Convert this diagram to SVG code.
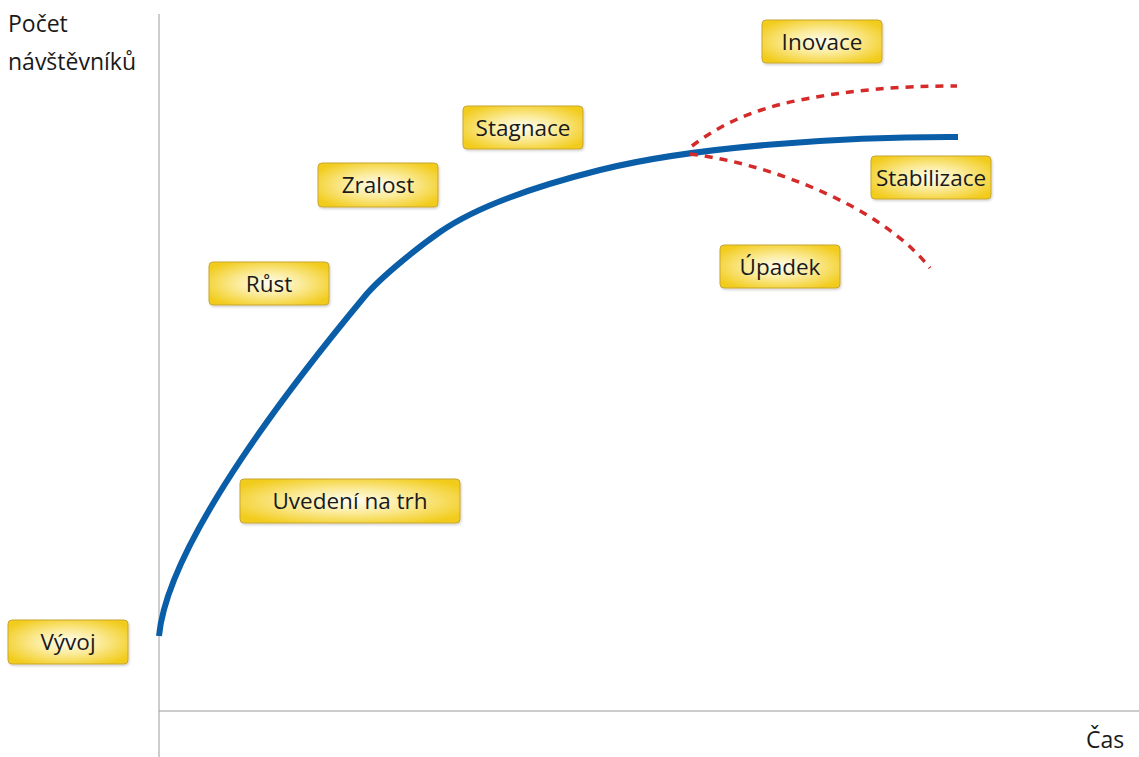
<svg xmlns="http://www.w3.org/2000/svg" width="1139" height="757" viewBox="0 0 1139 757">
  <defs>
    <radialGradient id="gold" cx="50%" cy="50%" r="60%">
      <stop offset="0" stop-color="#fffdf2"/>
      <stop offset="0.45" stop-color="#fbeb9a"/>
      <stop offset="1" stop-color="#f2cc1c"/>
    </radialGradient>
    <filter id="shadow" x="-10%" y="-20%" width="130%" height="150%">
      <feDropShadow dx="1" dy="1.5" stdDeviation="1.2" flood-color="#000" flood-opacity="0.18"/>
    </filter>
  </defs>
  <style>
    .box { fill: url(#gold); stroke: #c9a633; stroke-width: 1; filter: url(#shadow); }
    .lbl { font-family: "Open Sans", "Liberation Sans", sans-serif; font-size: 22.5px; fill: #1a1a1a; text-anchor: middle; }
    .axis-lbl { font-family: "Open Sans", "Liberation Sans", sans-serif; font-size: 23px; fill: #1a1a1a; }
    .axis { stroke: #9a9a9a; stroke-width: 1; fill: none; }
    .main { stroke: #0a5ea8; stroke-width: 6; fill: none; stroke-linecap: butt; }
    .alt { stroke: #d42a2a; stroke-width: 3.5; fill: none; stroke-dasharray: 8 7; }
  </style>
  <rect width="1139" height="757" fill="#ffffff"/>

  <!-- axes -->
  <g id="axes">
    <line class="axis" x1="159" y1="14" x2="159" y2="757"/>
    <line class="axis" x1="159" y1="711" x2="1139" y2="711"/>
    <text class="axis-lbl" x="8" y="32">Počet</text>
    <text class="axis-lbl" x="8" y="70">návštěvníků</text>
    <text class="axis-lbl" x="1086" y="748">Čas</text>
  </g>

  <!-- life-cycle curve and its two alternative endings -->
  <g id="connectors">
    <path class="main" d="M159,636 C168,540 301,373 365,296 C381,276.75 419.5,246.25 440,232 C481,203.5 546.6,183.4 600,170 C697,145.7 850,136.5 958,137"/>
    <path class="alt" d="M692,146 C720,125 750,110 800,100 C850,90 900,86 957,86"/>
    <path class="alt" d="M690,154 C740,160 800,178 855,208 C890,228 912,246 930,268"/>
  </g>

  <g id="vyvoj">
    <rect class="box" x="8" y="620" width="120" height="44" rx="4"/>
    <text class="lbl" x="68" y="650">Vývoj</text>
  </g>
  <g id="uvedeni">
    <rect class="box" x="240" y="479" width="220" height="44" rx="4"/>
    <text class="lbl" x="350" y="509">Uvedení na trh</text>
  </g>
  <g id="rust">
    <rect class="box" x="209" y="262" width="120" height="43" rx="4"/>
    <text class="lbl" x="269" y="292">Růst</text>
  </g>
  <g id="zralost">
    <rect class="box" x="318" y="163" width="120" height="44" rx="4"/>
    <text class="lbl" x="378" y="193">Zralost</text>
  </g>
  <g id="stagnace">
    <rect class="box" x="463" y="106" width="120" height="43" rx="4"/>
    <text class="lbl" x="523" y="136">Stagnace</text>
  </g>
  <g id="inovace">
    <rect class="box" x="762" y="20" width="120" height="43" rx="4"/>
    <text class="lbl" x="822" y="50">Inovace</text>
  </g>
  <g id="stabilizace">
    <rect class="box" x="871" y="156" width="120" height="43" rx="4"/>
    <text class="lbl" x="931" y="186">Stabilizace</text>
  </g>
  <g id="upadek">
    <rect class="box" x="720" y="245" width="120" height="43" rx="4"/>
    <text class="lbl" x="780" y="275">Úpadek</text>
  </g>
</svg>
